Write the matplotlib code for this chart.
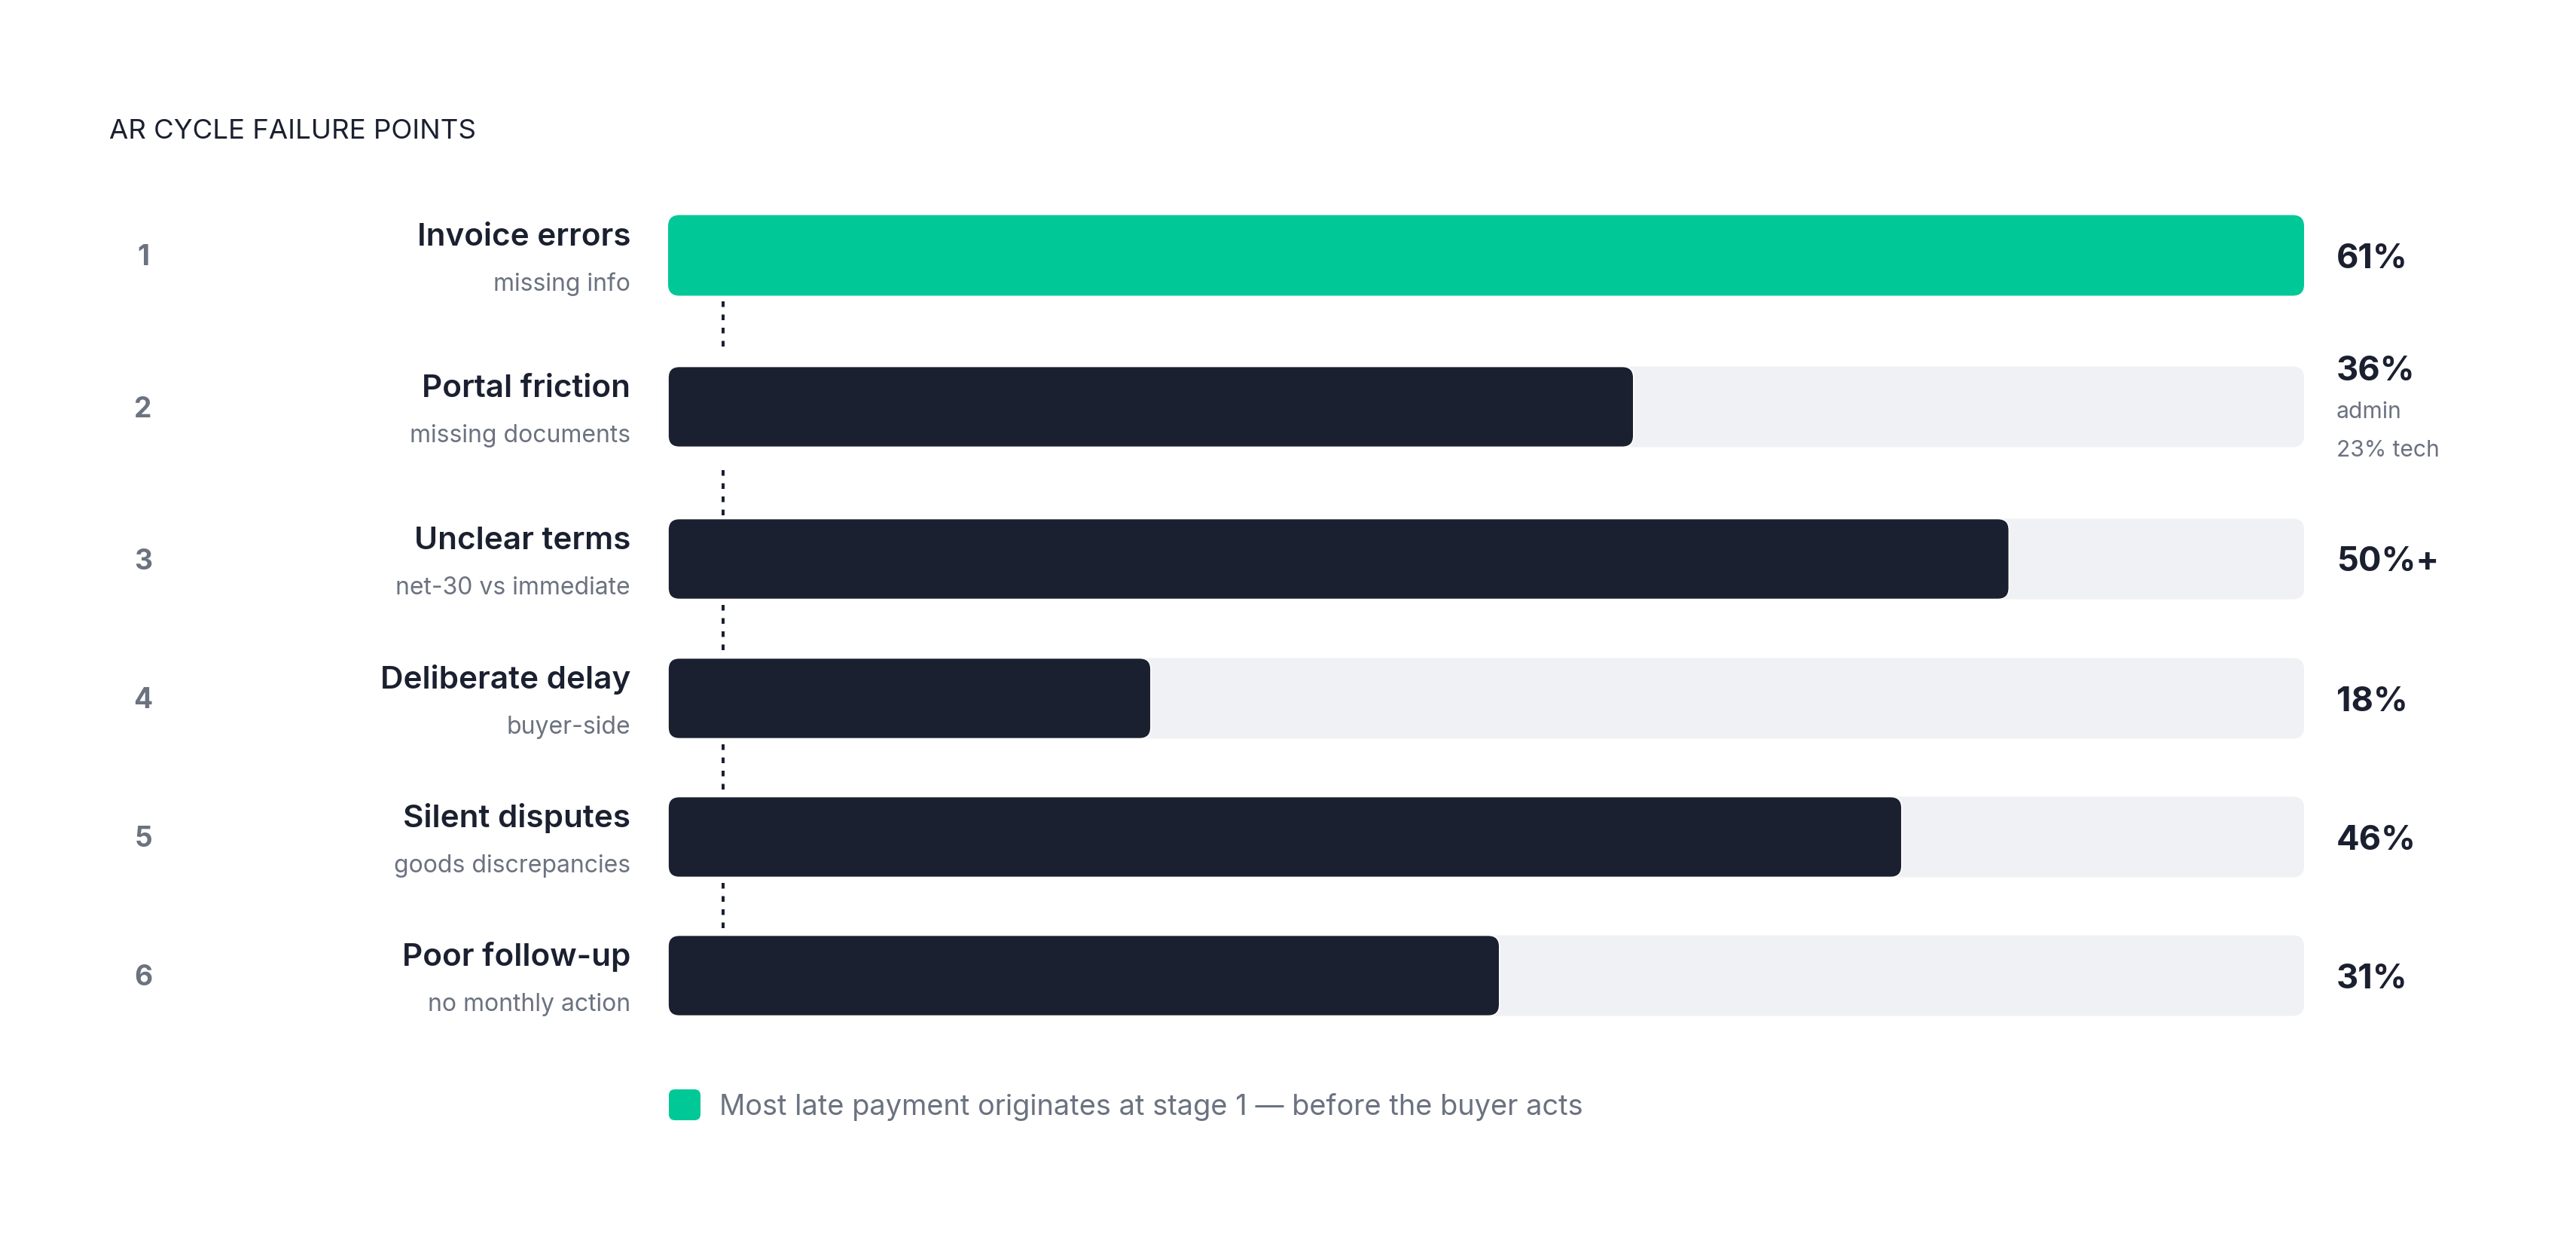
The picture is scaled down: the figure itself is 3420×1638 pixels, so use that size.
import matplotlib
matplotlib.use("Agg")
import matplotlib.pyplot as plt
from matplotlib.patches import FancyBboxPatch

plt.rcParams['font.family'] = ['Inter', 'DejaVu Sans']

# data
ranks = ["1", "2", "3", "4", "5", "6"]
stages = ["Invoice errors", "Portal friction", "Unclear terms",
          "Deliberate delay", "Silent disputes", "Poor follow-up"]
details = ["missing info", "missing documents", "net-30 vs immediate",
           "buyer-side", "goods discrepancies", "no monthly action"]
shares = [61, 36, 50, 18, 46, 31]
share_labels = ["61%", "36%", "50%+", "18%", "46%", "31%"]
share_notes = [[], ["admin", "23% tech"], [], [], [], []]
title = "AR CYCLE FAILURE POINTS"
footnote = "Most late payment originates at stage 1 \u2014 before the buyer acts"

DARK = "#1b2030"
GRAY = "#6b7280"
GREEN = "#00c896"
TRACK = "#f0f1f5"

W, H = 3420, 1638
fig = plt.figure(figsize=(W / 200, H / 200), dpi=200)
fig.patch.set_facecolor("white")

# pixel-space canvas for text and decorations
ax = fig.add_axes([0, 0, 1, 1])
ax.set_xlim(0, W)
ax.set_ylim(H, 0)
ax.axis("off")

# bar axes: x in percent, y in pixels
bx0, bx1 = 887, 3059
bax = fig.add_axes([bx0 / W, 0, (bx1 - bx0) / W, 1])
bax.set_xlim(0, max(shares))
bax.set_ylim(H, 0)
bax.axis("off")
bax.patch.set_alpha(0)

row_y = [339, 540, 742, 927, 1111, 1295]
bar_h = 107
px_per_unit = (bx1 - bx0) / max(shares)
rad = 15 / px_per_unit

def rbar(x0, y0, w, h, color, ec="none", lw=0, z=2):
    p = FancyBboxPatch((x0, y0), w, h,
                       boxstyle=f"round,pad=0,rounding_size={rad}",
                       mutation_aspect=px_per_unit,
                       fc=color, ec=ec, lw=lw, zorder=z)
    bax.add_patch(p)

ax.text(145, 184, title, fontsize=13.2, color=DARK, ha="left", va="baseline")

for i, yc in enumerate(row_y):
    top = yc - bar_h / 2
    first = i == 0
    if not first:
        rbar(0, top, max(shares), bar_h, TRACK, z=1)
    rbar(0, top, shares[i], bar_h, GREEN if first else DARK,
         ec="none" if first else "#ffffff", lw=0 if first else 0.6, z=2)

    ax.text(190, yc + 13.5, ranks[i], fontsize=13.4, fontweight="bold",
            color=GRAY, ha="center", va="baseline")
    ax.text(837, yc - 13, stages[i], fontsize=15.2, fontweight="semibold",
            color=DARK, ha="right", va="baseline")
    ax.text(837, yc + 47, details[i], fontsize=11.5, color=GRAY,
            ha="right", va="baseline")

    notes = share_notes[i]
    if notes:
        ax.text(3102, yc - 35, share_labels[i], fontsize=16.3, fontweight="bold",
                color=DARK, ha="left", va="baseline")
        for k, n in enumerate(notes):
            ax.text(3102, yc + 15 + 51.5 * k, n, fontsize=10.8, color=GRAY,
                    ha="left", va="baseline")
        block_bottom = yc + 15 + 51.5 * (len(notes) - 1) + 10
    else:
        ax.text(3102, yc + 16.5, share_labels[i], fontsize=16.3, fontweight="bold",
                color=DARK, ha="left", va="baseline")
        block_bottom = yc + bar_h / 2

    # dashed connector to the next stage
    if i < len(row_y) - 1:
        y0 = max(block_bottom, yc + bar_h / 2) + 7
        ax.plot([960, 960], [y0, y0 + 61], color=DARK, lw=1.44,
                dashes=(1.875, 2.5), solid_capstyle="butt", dash_capstyle="butt")

# footnote with green key
key = FancyBboxPatch((888, 1446), 42, 41, boxstyle="round,pad=0,rounding_size=8",
                     fc=GREEN, ec="none")
ax.add_patch(key)
ax.text(955, 1480, footnote, fontsize=13.7, color=GRAY, ha="left", va="baseline")

fig.savefig("out.png", dpi=200, facecolor="white")
